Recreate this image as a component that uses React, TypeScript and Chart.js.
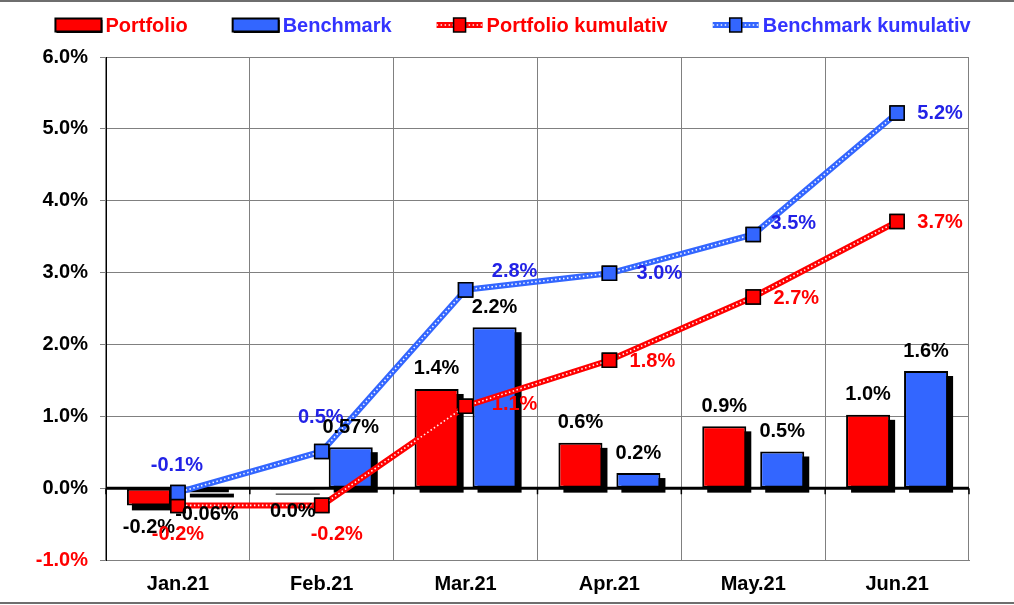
import React, { useEffect, useRef } from 'react';
import { Chart, registerables } from 'chart.js';

Chart.register(...registerables);

const categories = ['Jan.21', 'Feb.21', 'Mar.21', 'Apr.21', 'May.21', 'Jun.21'];
const portfolioMonthly = [-0.24, -0.02, 1.38, 0.63, 0.86, 1.02];
const benchmarkMonthly = [-0.06, 0.57, 2.24, 0.21, 0.51, 1.63];
const portfolioCumulative = [-0.24, -0.24, 1.14, 1.78, 2.66, 3.71];
const benchmarkCumulative = [-0.06, 0.51, 2.76, 2.99, 3.53, 5.22];
const portfolioMonthlyDecimals = [1, 1, 1, 1, 1, 1];
const benchmarkMonthlyDecimals = [2, 2, 1, 1, 1, 1];
const yMin = -1;
const yMax = 6;
const yStep = 1;
const seriesNames = ['Portfolio', 'Benchmark', 'Portfolio kumulativ', 'Benchmark kumulativ'];

// label placement (pixel offsets from the marker), layout only
const portfolioCumLabelOffsets = [[0, 29], [15, 29], [49, -2], [43, 1], [43, 1], [43, 1]];
const benchmarkCumLabelOffsets = [[-1, -27], [-1, -34], [49, -18], [50, 0], [40, -11], [43, 0]];

const RED = '#ff0000';
const BLUE = '#3366ff';
const BLUE_TEXT = '#2222e6';
const BLUE_LEGEND = '#3333ff';
const GRID = '#808080';
const FONT = 'bold 20px Arial, "Liberation Sans", sans-serif';

const fmt = (v: number, d: number) => {
  let s = v.toFixed(d);
  if (/^-0\.0+$/.test(s)) s = s.slice(1);
  return s + '%';
};

const framePlugin = {
  id: 'frame',
  beforeDraw(chart: any) {
    const { ctx, width, height } = chart;
    ctx.save();
    ctx.fillStyle = '#ffffff';
    ctx.fillRect(0, 0, width, height);
    ctx.strokeStyle = '#6e6e6e';
    ctx.lineWidth = 2;
    ctx.beginPath();
    ctx.moveTo(0, 1);
    ctx.lineTo(width, 1);
    ctx.moveTo(0, height - 2);
    ctx.lineTo(width, height - 2);
    ctx.stroke();
    ctx.restore();
  },
  beforeDatasetsDraw(chart: any) {
    const { ctx, chartArea, scales } = chart;
    const y0 = scales.y.getPixelForValue(0);
    const xs = scales.x;
    ctx.save();
    ctx.strokeStyle = '#000';
    ctx.lineWidth = 3;
    ctx.beginPath();
    ctx.moveTo(chartArea.left, y0);
    ctx.lineTo(chartArea.right, y0);
    ctx.stroke();
    ctx.lineWidth = 1.5;
    ctx.beginPath();
    const n = categories.length;
    const step = (chartArea.right - chartArea.left) / n;
    for (let i = 0; i <= n; i++) {
      const x = xs.left + step * i;
      ctx.moveTo(x, y0);
      ctx.lineTo(x, y0 + 6);
    }
    ctx.stroke();
    ctx.restore();
  },
};

const barShadowPlugin = {
  id: 'barShadow',
  beforeDatasetDraw(chart: any, args: any) {
    const meta = args.meta;
    if (meta.type !== 'bar') return;
    const ctx = chart.ctx;
    ctx.save();
    ctx.fillStyle = '#000';
    meta.data.forEach((el: any) => {
      const { x, y, base, width } = el.getProps(['x', 'y', 'base', 'width'], true);
      const top = Math.min(y, base);
      const h = Math.abs(base - y);
      ctx.fillRect(x - width / 2 + 5, top + 5, width, h);
    });
    ctx.restore();
  },
};

const dottedLinePlugin = {
  id: 'dottedLine',
  afterDatasetDraw(chart: any, args: any) {
    const meta = args.meta;
    if (meta.type !== 'line') return;
    const ctx = chart.ctx;
    const pts = meta.data;
    ctx.save();
    ctx.strokeStyle = 'rgba(255,255,255,0.95)';
    ctx.lineWidth = 1.6;
    ctx.setLineDash([1.5, 2.5]);
    ctx.beginPath();
    pts.forEach((p: any, i: number) => {
      if (i === 0) ctx.moveTo(p.x, p.y);
      else ctx.lineTo(p.x, p.y);
    });
    ctx.stroke();
    ctx.restore();
    pts.forEach((p: any) => p.draw(ctx, chart.chartArea));
  },
};

const labelsPlugin = {
  id: 'valueLabels',
  afterDatasetsDraw(chart: any) {
    const ctx = chart.ctx;
    ctx.save();
    ctx.font = FONT;
    ctx.textAlign = 'center';
    ctx.textBaseline = 'middle';
    const drawCum = (dsIndex: number, values: number[], offsets: number[][], color: string) => {
      const meta = chart.getDatasetMeta(dsIndex);
      ctx.fillStyle = color;
      meta.data.forEach((p: any, i: number) => {
        ctx.fillText(fmt(values[i], 1), p.x + offsets[i][0], p.y + offsets[i][1]);
      });
    };
    const drawBars = (dsIndex: number, values: number[], decimals: number[]) => {
      const meta = chart.getDatasetMeta(dsIndex);
      ctx.fillStyle = '#000';
      meta.data.forEach((b: any, i: number) => {
        const v = values[i];
        const y = v >= 0 ? b.y - 20 : b.y + 22;
        ctx.fillText(fmt(v, decimals[i]), b.x, y);
      });
    };
    drawCum(0, benchmarkCumulative, benchmarkCumLabelOffsets, BLUE_TEXT);
    drawBars(2, portfolioMonthly, portfolioMonthlyDecimals);
    drawBars(3, benchmarkMonthly, benchmarkMonthlyDecimals);
    drawCum(1, portfolioCumulative, portfolioCumLabelOffsets, RED);
    ctx.restore();
  },
};

const legendPlugin = {
  id: 'customLegend',
  afterDraw(chart: any) {
    const ctx = chart.ctx;
    ctx.save();
    ctx.font = FONT;
    ctx.textBaseline = 'middle';
    ctx.textAlign = 'left';
    const items = [
      { text: seriesNames[0], color: RED, kind: 'bar', fill: RED },
      { text: seriesNames[1], color: BLUE_LEGEND, kind: 'bar', fill: BLUE },
      { text: seriesNames[2], color: RED, kind: 'line', fill: RED },
      { text: seriesNames[3], color: BLUE_LEGEND, kind: 'line', fill: BLUE },
    ];
    const iconW = 46;
    const gapIcon = 4;
    const gapItem = 45;
    const widths = items.map((it) => iconW + gapIcon + ctx.measureText(it.text).width);
    const total = widths.reduce((a, b) => a + b, 0) + gapItem * (items.length - 1);
    let x = 513 - total / 2;
    const y = 25;
    items.forEach((it, i) => {
      if (it.kind === 'bar') {
        ctx.fillStyle = '#000';
        ctx.fillRect(x + 1, y - 6 + 1, iconW, 13);
        ctx.fillStyle = it.fill;
        ctx.fillRect(x, y - 6.5, iconW, 13);
        ctx.strokeStyle = '#000';
        ctx.lineWidth = 2;
        ctx.strokeRect(x, y - 6.5, iconW, 13);
      } else {
        ctx.strokeStyle = it.fill;
        ctx.lineWidth = 6;
        ctx.beginPath();
        ctx.moveTo(x, y);
        ctx.lineTo(x + iconW, y);
        ctx.stroke();
        ctx.save();
        ctx.strokeStyle = 'rgba(255,255,255,0.95)';
        ctx.lineWidth = 1.6;
        ctx.setLineDash([1.5, 2.5]);
        ctx.beginPath();
        ctx.moveTo(x, y);
        ctx.lineTo(x + iconW, y);
        ctx.stroke();
        ctx.restore();
        ctx.fillStyle = it.fill;
        ctx.fillRect(x + iconW / 2 - 6, y - 7, 12, 14);
        ctx.strokeStyle = '#000';
        ctx.lineWidth = 1.5;
        ctx.strokeRect(x + iconW / 2 - 6, y - 7, 12, 14);
      }
      ctx.fillStyle = it.color;
      ctx.fillText(it.text, x + iconW + gapIcon, y + 1);
      x += widths[i] + gapItem;
    });
    ctx.restore();
  },
};

export default function App() {
  const canvasRef = useRef<HTMLCanvasElement | null>(null);

  useEffect(() => {
    if (!canvasRef.current) return;
    const tickFont = { family: 'Arial, "Liberation Sans", sans-serif', size: 20, weight: 'bold' as const };
    const chart = new Chart(canvasRef.current, {
      type: 'bar',
      data: {
        labels: categories,
        datasets: [
          {
            type: 'line',
            label: seriesNames[3],
            data: benchmarkCumulative,
            order: 0,
            borderColor: BLUE,
            borderWidth: 6,
            backgroundColor: BLUE,
            pointStyle: 'rect',
            pointRadius: 10,
            pointBackgroundColor: BLUE,
            pointBorderColor: '#000',
            pointBorderWidth: 1.5,
            tension: 0,
            fill: false,
          } as any,
          {
            type: 'line',
            label: seriesNames[2],
            data: portfolioCumulative,
            order: 1,
            borderColor: RED,
            borderWidth: 6,
            backgroundColor: RED,
            pointStyle: 'rect',
            pointRadius: 10,
            pointBackgroundColor: RED,
            pointBorderColor: '#000',
            pointBorderWidth: 1.5,
            tension: 0,
            fill: false,
          } as any,
          {
            type: 'bar',
            label: seriesNames[0],
            data: portfolioMonthly,
            order: 2,
            backgroundColor: RED,
            borderColor: '#000',
            borderWidth: 2,
            borderSkipped: false,
            categoryPercentage: 0.806,
            barPercentage: 0.76,
          } as any,
          {
            type: 'bar',
            label: seriesNames[1],
            data: benchmarkMonthly,
            order: 2,
            backgroundColor: BLUE,
            borderColor: '#000',
            borderWidth: 2,
            borderSkipped: false,
            categoryPercentage: 0.806,
            barPercentage: 0.76,
          } as any,
        ],
      },
      options: {
        animation: false,
        responsive: true,
        maintainAspectRatio: false,
        layout: { padding: { top: 57, right: 45, bottom: 0, left: 0 } },
        plugins: {
          legend: { display: false },
          tooltip: { enabled: false },
        },
        scales: {
          x: {
            grid: { color: GRID, lineWidth: 1, drawTicks: false, offset: true },
            border: { color: GRID, width: 1 },
            ticks: { color: '#000', font: tickFont, padding: 12 },
            afterFit: (s: any) => {
              s.height = 45;
            },
          },
          y: {
            min: yMin,
            max: yMax,
            ticks: {
              stepSize: yStep,
              color: (c: any) => (c.tick && c.tick.value < 0 ? RED : '#000'),
              font: tickFont,
              padding: 12,
              callback: (v: any) => Number(v).toFixed(1) + '%',
            },
            grid: { color: GRID, lineWidth: 1, tickLength: 6, drawTicks: true },
            border: { color: '#000', width: 1 },
            afterFit: (s: any) => {
              s.width = 106;
            },
          },
        },
      },
      plugins: [framePlugin, barShadowPlugin, dottedLinePlugin, labelsPlugin, legendPlugin],
    });
    return () => chart.destroy();
  }, []);

  return (
    <div style={{ position: 'fixed', left: 0, top: 0, width: 1014, height: 605, background: '#fff' }}>
      <canvas ref={canvasRef} />
    </div>
  );
}
